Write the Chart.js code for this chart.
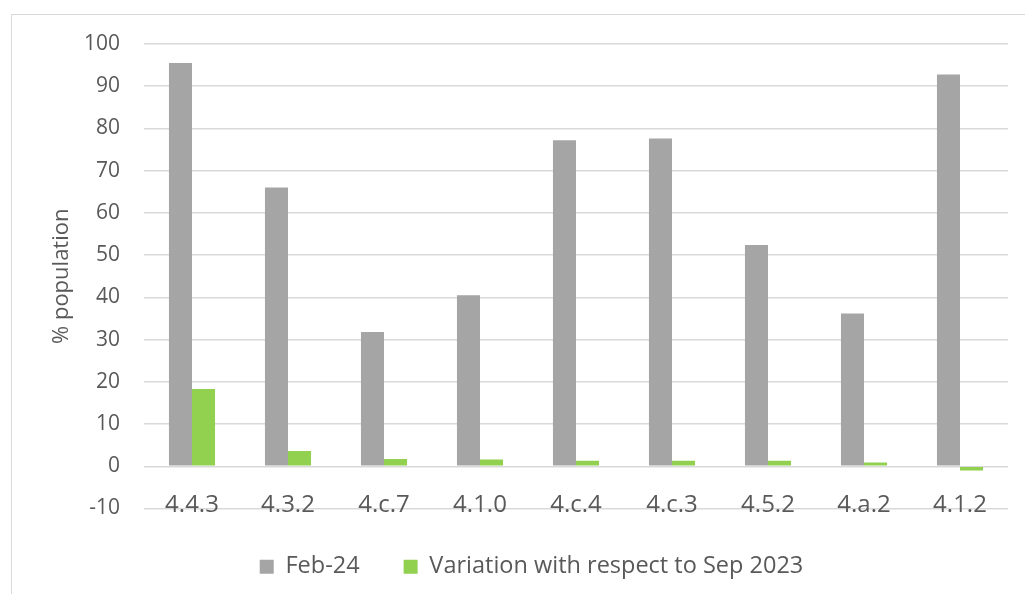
<!DOCTYPE html>
<html>
<head>
<meta charset="utf-8">
<script src="https://cdn.jsdelivr.net/npm/chart.js@4"></script>
<style>
  html, body { margin: 0; padding: 0; background: #ffffff; }
  #wrap { position: relative; width: 1025px; height: 594px; overflow: hidden; }
  #frame { position: absolute; left: 11px; top: 14px; width: 1030px; height: 600px; border: 1.5px solid #d9d9d9; box-sizing: border-box; }
  canvas { position: absolute; left: 0; top: 0; }
</style>
</head>
<body>
<div id="wrap">
  <div id="frame"></div>
  <canvas id="c" width="1025" height="594"></canvas>
</div>
<script>
const categories = ["4.4.3", "4.3.2", "4.c.7", "4.1.0", "4.c.4", "4.c.3", "4.5.2", "4.a.2", "4.1.2"];
const feb24 = [95.5, 66.0, 31.8, 40.5, 77.2, 77.6, 52.4, 36.2, 92.8];
const variation = [18.3, 3.6, 1.7, 1.6, 1.3, 1.3, 1.3, 0.9, -1.0];
const seriesNames = ["Feb-24", "Variation with respect to Sep 2023"];
const yTicks = [-10, 0, 10, 20, 30, 40, 50, 60, 70, 80, 90, 100];
const yTitle = "% population";

const FONT = "'Open Sans', 'DejaVu Sans', sans-serif";
const TXT = "#595959";

new Chart(document.getElementById("c"), {
  type: "bar",
  data: {
    labels: categories,
    datasets: [
      { label: seriesNames[0], data: feb24, backgroundColor: "#a5a5a5", borderWidth: 0 },
      { label: seriesNames[1], data: variation, backgroundColor: "#92d050", borderWidth: 0 }
    ]
  },
  options: {
    responsive: false,
    animation: false,
    layout: { padding: { left: 55, right: 17, top: 44, bottom: 5.5 } },
    datasets: { bar: { barPercentage: 1.0, categoryPercentage: 0.48 } },
    plugins: {
      tooltip: { enabled: false },
      legend: {
        position: "bottom",
        labels: {
          color: TXT,
          font: { family: FONT, size: 23.5 },
          boxWidth: 14,
          boxHeight: 14,
          padding: 44
        }
      }
    },
    scales: {
      x: {
        grid: { display: false, drawTicks: false },
        border: { display: false },
        ticks: { color: TXT, font: { family: FONT, size: 24 }, padding: -11, mirror: true, maxRotation: 0, autoSkip: false },
        afterFit: (s) => { s.height = 2.5; }
      },
      y: {
        min: -10,
        max: 100,
        afterBuildTicks: (s) => { s.ticks = yTicks.map(v => ({ value: v })); },
        grid: { color: "#d9d9d9", lineWidth: 1.5, drawTicks: false },
        border: { display: false },
        ticks: { color: TXT, font: { family: FONT, size: 21 }, padding: 24 },
        title: { display: true, text: yTitle, color: TXT, font: { family: FONT, size: 22 }, padding: { top: -6, bottom: 0 } },
        afterFit: (s) => { s.width = 144 - 55; }
      }
    }
  }
});
</script>
</body>
</html>
